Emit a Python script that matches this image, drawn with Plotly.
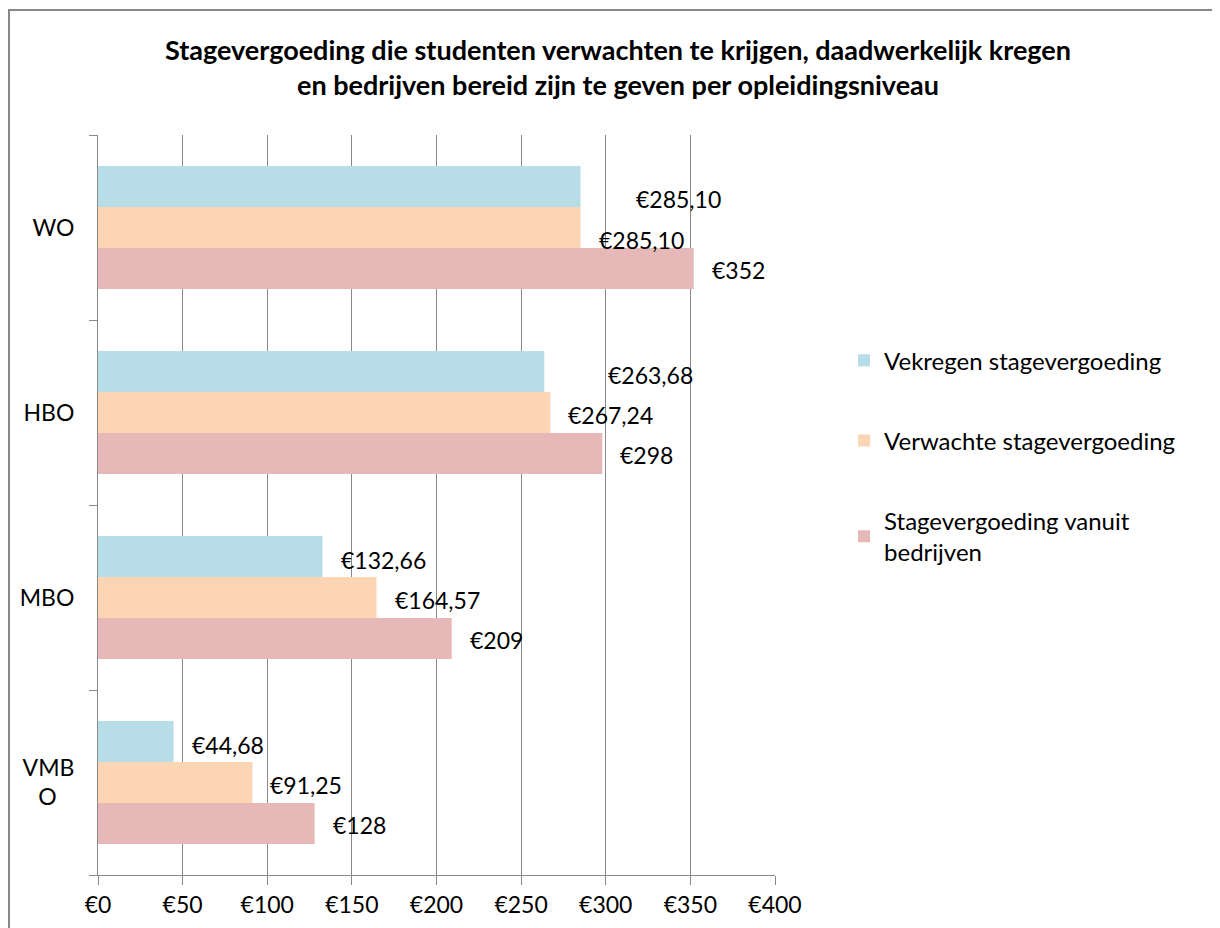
import plotly.graph_objects as go

# data
niveaus = ["VMBO", "MBO", "HBO", "WO"]
niveau_labels = ["VMB<br>O\u00a0\u00a0\u00a0", "MBO", "HBO", "WO"]
verkregen = [44.68, 132.66, 263.68, 285.10]
verwacht = [91.25, 164.57, 267.24, 285.10]
bedrijven = [128, 209, 298, 352]
x_ticks = [0, 50, 100, 150, 200, 250, 300, 350, 400]


def euro(v, decimals=2):
    if decimals == 0:
        return "€%d" % round(v)
    return ("€%.2f" % v).replace(".", ",")


FONT = "Lato"
GRID = "#888888"

# bar order in plotly goes bottom -> top within a group, so pink first
series = [
    ("Stagevergoeding vanuit<br>bedrijven", bedrijven, "#E6B9B8", 0),
    ("Verwachte stagevergoeding", verwacht, "#FCD5B5", 2),
    ("Vekregen stagevergoeding", verkregen, "#B7DDE8", 2),
]

fig = go.Figure()
for i, (name, vals, col, dec) in enumerate(series):
    fig.add_trace(go.Bar(
        y=niveaus, x=vals, orientation="h", name=name,
        marker=dict(color=col, line=dict(width=0)),
        legendgroup=str(i), legendrank=1000 - i, hoverinfo="x+name",
    ))

# label nudges (pixels): per series base shift, plus WO overlap tweaks
base_yshift = {0: -42, 1: -2, 2: 38}
extra = {(2, "WO"): (37, -9), (1, "WO"): (0, -10), (2, "HBO"): (46, 0)}
annotations = []
for i, (name, vals, col, dec) in enumerate(series):
    for cat, v in zip(niveaus, vals):
        dx, dy = extra.get((i, cat), (0, 0))
        annotations.append(dict(
            x=v, y=cat, xref="x", yref="y", text=euro(v, dec),
            showarrow=False, xanchor="left", yanchor="middle",
            xshift=16 + dx, yshift=base_yshift[i] + dy,
            font=dict(family=FONT, size=23, color="#000000"),
        ))

fig.update_layout(
    width=1220, height=928,
    paper_bgcolor="white", plot_bgcolor="white",
    font=dict(family=FONT, size=22, color="#000000"),
    title=dict(
        text="<b>Stagevergoeding die studenten verwachten te krijgen, daadwerkelijk kregen<br>"
             "en bedrijven bereid zijn te geven per opleidingsniveau</b>",
        x=0.5, xanchor="center", y=0.944, yanchor="middle",
        font=dict(family=FONT, size=27, color="#000000"),
    ),
    barmode="group", bargap=0.335, bargroupgap=0,
    margin=dict(l=90, r=453, t=127, b=61),
    legend=dict(
        x=1.102, xanchor="left", y=0.7255, yanchor="top",
        traceorder="grouped", tracegroupgap=46,
        font=dict(family=FONT, size=24), itemsizing="constant",
        bgcolor="rgba(0,0,0,0)",
    ),
    annotations=annotations,
    shapes=[dict(type="rect", xref="paper", yref="paper",
                 x0=-0.1315, x1=1.8, y0=-0.2, y1=1.169,
                 line=dict(color="#888888", width=2))],
)
fig.update_xaxes(
    range=[0, 400], tickvals=x_ticks, ticktext=[euro(t, 0) for t in x_ticks],
    showgrid=True, gridcolor=GRID, gridwidth=1,
    showline=True, linecolor=GRID, linewidth=1,
    ticks="outside", ticklen=9, tickcolor=GRID,
    tickfont=dict(family=FONT, size=23), zeroline=False,
)
fig.update_yaxes(
    categoryorder="array", categoryarray=niveaus,
    tickvals=niveaus, ticktext=niveau_labels,
    showgrid=False, showline=True, linecolor=GRID, linewidth=1,
    ticks="outside", ticklen=8, tickcolor=GRID, tickson="boundaries",
    ticklabelstandoff=18, tickfont=dict(family=FONT, size=23),
)

fig.write_html("out.html")
